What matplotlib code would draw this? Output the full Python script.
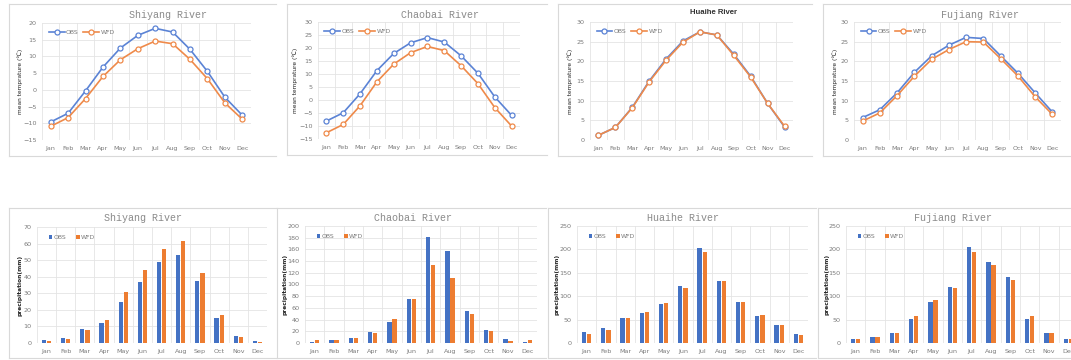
import matplotlib
matplotlib.use("Agg")
import matplotlib.pyplot as plt
from matplotlib.lines import Line2D
import numpy as np

W, H = 1071, 360
months = ["Jan", "Feb", "Mar", "Apr", "May", "Jun", "Jul", "Aug", "Sep", "Oct", "Nov", "Dec"]
rivers = ["Shiyang River", "Chaobai River", "Huaihe River", "Fujiang River"]

# mean temperature (°C)
shiyang_t_obs = [-9.6, -7.0, -0.3, 6.8, 12.5, 16.3, 18.4, 17.3, 12.1, 5.5, -2.2, -7.6]
shiyang_t_wfd = [-10.9, -8.3, -2.6, 4.0, 9.0, 12.3, 14.6, 13.8, 9.1, 3.3, -3.9, -8.8]
chaobai_t_obs = [-8.1, -4.9, 2.4, 11.3, 17.9, 22.0, 24.0, 22.3, 17.0, 10.3, 1.2, -5.9]
chaobai_t_wfd = [-12.6, -9.4, -2.2, 7.0, 13.8, 18.2, 20.6, 19.0, 13.2, 6.3, -2.9, -10.0]
huaihe_t_obs = [1.2, 3.2, 8.3, 15.0, 20.6, 25.2, 27.5, 26.7, 21.8, 16.2, 9.3, 3.3]
huaihe_t_wfd = [1.2, 3.2, 8.2, 14.8, 20.3, 24.9, 27.5, 26.7, 21.5, 16.0, 9.3, 3.5]
fujiang_t_obs = [5.7, 7.7, 12.0, 17.2, 21.4, 24.1, 26.1, 25.8, 21.4, 17.0, 12.0, 7.1]
fujiang_t_wfd = [4.8, 6.9, 11.3, 16.2, 20.5, 23.0, 25.0, 24.9, 20.7, 16.3, 11.0, 6.5]

# precipitation (mm)
shiyang_p_obs = [1.6, 2.8, 8.2, 12.2, 24.8, 36.6, 48.8, 53.4, 37.4, 15.0, 4.4, 1.2]
shiyang_p_wfd = [1.0, 2.6, 8.0, 13.8, 30.6, 43.8, 57.0, 61.8, 42.4, 16.8, 3.6, 0.8]
chaobai_p_obs = [2.3, 4.6, 8.0, 18.2, 35.9, 75.2, 181.0, 157.0, 55.3, 22.8, 6.8, 2.3]
chaobai_p_wfd = [5.1, 5.7, 9.1, 17.1, 41.6, 74.6, 132.8, 110.5, 49.0, 19.9, 3.4, 5.1]
huaihe_p_obs = [23.5, 32.0, 53.4, 64.1, 82.6, 122.5, 202.3, 133.2, 87.6, 58.4, 39.2, 18.5]
huaihe_p_wfd = [20.0, 27.8, 53.4, 67.0, 84.8, 118.2, 194.4, 131.8, 87.6, 59.8, 39.2, 17.1]
fujiang_p_obs = [9.3, 12.1, 22.1, 52.0, 88.3, 119.7, 204.4, 173.1, 141.0, 52.0, 22.1, 7.8]
fujiang_p_wfd = [9.3, 12.1, 22.1, 57.7, 91.2, 118.2, 193.7, 166.7, 135.3, 57.0, 22.1, 9.3]

temp_obs = [shiyang_t_obs, chaobai_t_obs, huaihe_t_obs, fujiang_t_obs]
temp_wfd = [shiyang_t_wfd, chaobai_t_wfd, huaihe_t_wfd, fujiang_t_wfd]
prec_obs = [shiyang_p_obs, chaobai_p_obs, huaihe_p_obs, fujiang_p_obs]
prec_wfd = [shiyang_p_wfd, chaobai_p_wfd, huaihe_p_wfd, fujiang_p_wfd]
temp_ylims = [(-15, 20), (-15, 30), (0, 30), (0, 30)]
prec_ylims = [(0, 70, 10), (0, 200, 20), (0, 250, 50), (0, 250, 50)]

BLUE_L = "#5B83D5"
ORANGE_L = "#EF8A4A"
BLUE = "#4472C4"
ORANGE = "#ED7D31"
GRID = "#E4E4E4"
TICKC = "#7A7A7A"
BOX = "#D9D9D9"

fig = plt.figure(figsize=(W / 100, H / 100), dpi=100)
fig.patch.set_facecolor("white")


def add_ax(l, r, t, b):
    return fig.add_axes([l / W, 1 - b / H, (r - l) / W, (b - t) / H])


def box(l, r, t, b):
    for xs, ys in [((l, r), (t, t)), ((l, r), (b, b)), ((l, l), (t, b))]:
        fig.add_artist(Line2D([x / W for x in xs], [1 - y / H for y in ys],
                              color=BOX, lw=0.8, transform=fig.transFigure))


def style(ax, ylim, step):
    ax.set_xlim(-0.5, 11.5)
    ax.set_ylim(ylim[0], ylim[1])
    ax.set_yticks(np.arange(ylim[0], ylim[1] + 0.1, step))
    ax.set_xticks(range(12))
    ax.set_xticklabels(months)
    ax.set_xticks(np.arange(-0.5, 12, 1), minor=True)
    ax.grid(True, which="major", axis="y", color=GRID, lw=0.6)
    ax.grid(True, which="minor", axis="x", color=GRID, lw=0.6)
    ax.set_axisbelow(True)
    for s in ax.spines.values():
        s.set_visible(False)
    ax.tick_params(axis="both", which="both", length=0, labelsize=4.6,
                   labelcolor=TICKC, pad=4)


# top boxes
top_boxes = [(9, 276, 4, 156), (287, 547, 4, 155), (558, 812, 4, 156), (823, 1071, 4, 156)]
bot_boxes = [(9, 276, 208, 358), (277, 546, 208, 358), (548, 816, 208, 358), (818, 1071, 208, 358)]
for bx in top_boxes + bot_boxes:
    box(*bx)

top_axes = [(42, 251, 23, 140), (318, 520, 22, 139), (590, 793, 22, 140), (854, 1061, 22, 140)]
top_titles = [(168, 15), (440, 15), (713, 13), (980, 15)]
top_ylab_x = [20, 295, 570, 835]

for i in range(4):
    ax = add_ax(*top_axes[i])
    style(ax, temp_ylims[i], 5)
    x = np.arange(12)
    ax.plot(x, temp_obs[i], color=BLUE_L, lw=1.2, marker="o", ms=3.6,
            mfc="white", mec=BLUE_L, mew=0.9, label="OBS", zorder=3)
    ax.plot(x, temp_wfd[i], color=ORANGE_L, lw=1.2, marker="o", ms=3.6,
            mfc="white", mec=ORANGE_L, mew=0.9, label="WFD", zorder=4)
    ax.legend(loc="center left", bbox_to_anchor=(0.02, 0.92), ncol=2, frameon=False,
              fontsize=4.4, handlelength=2.6, columnspacing=0.8, handletextpad=0.2,
              labelcolor=TICKC, borderaxespad=0)
    tx, ty = top_titles[i]
    if i == 2:
        fig.text(tx / W, 1 - ty / H, rivers[i], ha="center", va="center",
                 fontsize=5.6, fontweight="bold", color="#333333", family="Liberation Sans")
    else:
        fig.text(tx / W, 1 - ty / H, rivers[i], ha="center", va="center",
                 fontsize=7.2, color="#8A8A8A", family="Liberation Mono")
    fig.text(top_ylab_x[i] / W, 1 - ((top_axes[i][2] + top_axes[i][3]) / 2) / H,
             "mean temprature (℃)", rotation=90, ha="center", va="center",
             fontsize=4.2, color="#222222")

bot_axes = [(37, 267, 227, 343), (305, 537, 226, 343), (577, 808, 226, 343), (846, 1078, 226, 343)]
bot_titles = [(143, 218), (413, 218), (683, 218), (953, 218)]
bot_ylab_x = [20, 285, 557, 827]

for i in range(4):
    ax = add_ax(*bot_axes[i])
    lo, hi, st = prec_ylims[i]
    style(ax, (lo, hi), st)
    x = np.arange(12)
    bw = 0.22
    ax.bar(x - 0.135, prec_obs[i], width=bw, color=BLUE, label="OBS", zorder=3)
    ax.bar(x + 0.135, prec_wfd[i], width=bw, color=ORANGE, label="WFD", zorder=3)
    ax.legend(loc="center left", bbox_to_anchor=(0.04, 0.91), ncol=2, frameon=False,
              fontsize=4.4, handlelength=0.6, handleheight=0.6, columnspacing=1.6,
              handletextpad=0.2, labelcolor=TICKC, borderaxespad=0)
    tx, ty = bot_titles[i]
    fig.text(tx / W, 1 - ty / H, rivers[i], ha="center", va="center",
             fontsize=7.2, color="#8A8A8A", family="Liberation Mono")
    fig.text(bot_ylab_x[i] / W, 1 - ((bot_axes[i][2] + bot_axes[i][3]) / 2) / H,
             "precipitation(mm)", rotation=90, ha="center", va="center",
             fontsize=4.2, color="#222222", fontweight="bold")

fig.savefig("out.png", dpi=100, facecolor="white")
